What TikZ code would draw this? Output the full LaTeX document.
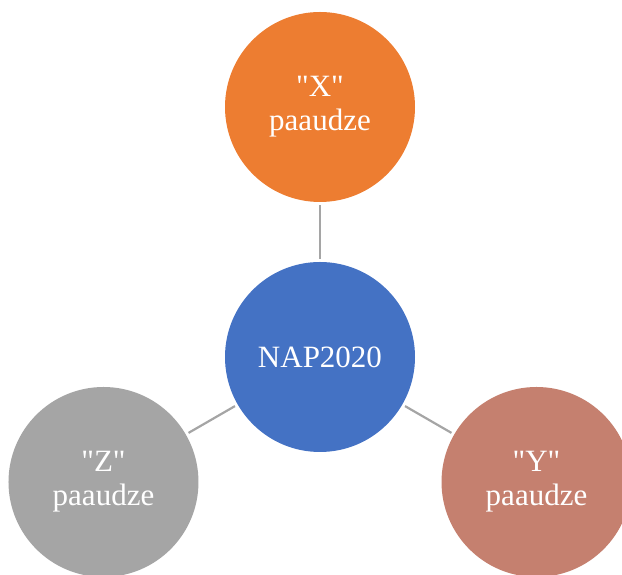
\documentclass[tikz,border=0pt]{standalone}
\usepackage{fontspec}
\setmainfont{Liberation Serif}[Ligatures=TeXOff]
\usetikzlibrary{calc}
\definecolor{genorange}{HTML}{ED7D31}
\definecolor{genblue}{HTML}{4472C4}
\definecolor{gengrey}{HTML}{A5A5A5}
\definecolor{genbrown}{HTML}{C5806F}
\tikzset{gen/.style={circle,minimum size=190pt,inner sep=0pt,text=white,align=center,
  font=\fontsize{31}{34}\selectfont},
  link/.style={draw=gengrey,line width=2.2pt,shorten <=3pt,shorten >=3pt}}

\begin{document}
\begin{tikzpicture}[x=1pt,y=1pt]
\useasboundingbox (0,0) rectangle (622,575);

% Place the centre and the three generations
\coordinate (C) at (320,218);
\node[gen,fill=genblue] (nap) at (C) {NAP2020};
\node[gen,fill=genorange] (genx) at ($(C)+(90:250)$) {"X"\\paaudze};
\node[gen,fill=gengrey] (genz) at ($(C)+(210:250)$) {"Z"\\paaudze};
\node[gen,fill=genbrown] (geny) at ($(C)+(330:250)$) {"Y"\\paaudze};

% Draw links
\draw[link] (nap) -- (genx);
\draw[link] (nap) -- (genz);
\draw[link] (nap) -- (geny);
\end{tikzpicture}
\end{document}
